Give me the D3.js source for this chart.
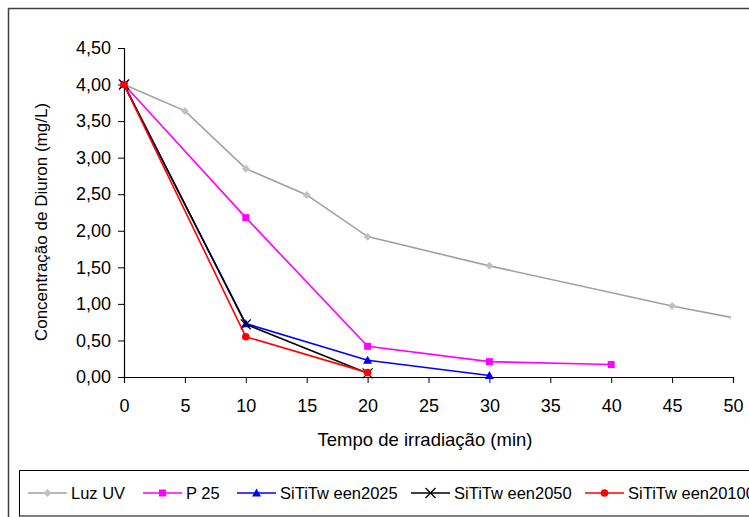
<!DOCTYPE html>
<html><head><meta charset="utf-8">
<script src="https://cdn.jsdelivr.net/npm/d3@7"></script>
<style>body{margin:0;background:#fff}svg{display:block}text{font-family:"Liberation Sans",Arial,sans-serif}</style>
</head><body>
<script>
const seriesNames = ["Luz UV","P 25","SiTiTw een2025","SiTiTw een2050","SiTiTw een20100"];
const luzX = [0,5,10,15,20,30,45,50];
const luzY = [4.00,3.64,2.85,2.49,1.92,1.52,0.97,0.81];
const p25X = [0,10,20,30,40];
const p25Y = [4.00,2.18,0.42,0.21,0.17];
const t2025X = [0,10,20,30];
const t2025Y = [4.00,0.73,0.23,0.02];
const t2050X = [0,10,20];
const t2050Y = [4.00,0.72,0.05];
const t20100X = [0,10,20];
const t20100Y = [4.00,0.55,0.06];
const xTicks = [0,5,10,15,20,25,30,35,40,45,50];
const yTicks = [0,0.5,1,1.5,2,2.5,3,3.5,4,4.5];

const W=749,H=517;
const svg=d3.select("body").append("svg").attr("width",W).attr("height",H);
svg.append("rect").attr("x",8.5).attr("y",8.5).attr("width",W+10).attr("height",H+10).attr("fill","#fff").attr("stroke","#404040").attr("stroke-width",1.5);

const x=d3.scaleLinear().domain([0,50]).range([124,733]);
const y=d3.scaleLinear().domain([0,4.5]).range([377,48]);

const fmt=d=>d3.format(".2f")(d).replace(".",",");
const ya=svg.append("g").attr("transform","translate(124,0)").call(d3.axisLeft(y).tickValues(yTicks).tickSize(6).tickPadding(7).tickFormat(fmt));
const xa=svg.append("g").attr("transform","translate(0,377)").call(d3.axisBottom(x).tickValues(xTicks).tickSize(6).tickPadding(16).tickFormat(d3.format("d")));
[ya,xa].forEach(a=>{a.select(".domain").attr("stroke","#000").attr("stroke-width",1.2);a.selectAll(".tick line").attr("stroke","#000");a.selectAll("text").attr("font-size",18).attr("fill","#000").attr("font-family","Liberation Sans, Arial, sans-serif");});

svg.append("text").attr("x",425).attr("y",446).attr("text-anchor","middle").attr("font-size",18.5).text("Tempo de irradiação (min)");
svg.append("text").attr("transform","translate(47,222) rotate(-90)").attr("text-anchor","middle").attr("font-size",17).text("Concentração de Diuron (mg/L)");

svg.append("clipPath").attr("id","clip").append("rect").attr("x",0).attr("y",0).attr("width",731).attr("height",H);

const series=[
 {name:seriesNames[0],xs:luzX,ys:luzY,color:"#a0a0a0",mcolor:"#c0c0c0",m:"diamond"},
 {name:seriesNames[1],xs:p25X,ys:p25Y,color:"#ff00ff",mcolor:"#ff00ff",m:"square"},
 {name:seriesNames[2],xs:t2025X,ys:t2025Y,color:"#0000ff",mcolor:"#0000ff",m:"triangle"},
 {name:seriesNames[3],xs:t2050X,ys:t2050Y,color:"#000000",mcolor:"#000000",m:"x"},
 {name:seriesNames[4],xs:t20100X,ys:t20100Y,color:"#ff0000",mcolor:"#ff0000",m:"circle"}
];
function marker(g,type,cx,cy,c){
  if(type==="diamond") g.append("path").attr("d",`M${cx},${cy-4}L${cx+4},${cy}L${cx},${cy+4}L${cx-4},${cy}Z`).attr("fill",c);
  else if(type==="square") g.append("rect").attr("x",cx-3.5).attr("y",cy-3.5).attr("width",7).attr("height",7).attr("fill",c);
  else if(type==="triangle") g.append("path").attr("d",`M${cx},${cy-4.5}L${cx+4.5},${cy+3.5}L${cx-4.5},${cy+3.5}Z`).attr("fill",c);
  else if(type==="x") g.append("path").attr("d",`M${cx-5},${cy-5}L${cx+5},${cy+5}M${cx+5},${cy-5}L${cx-5},${cy+5}`).attr("stroke",c).attr("stroke-width",1.3).attr("fill","none");
  else if(type==="circle") g.append("circle").attr("cx",cx).attr("cy",cy).attr("r",3.8).attr("fill",c);
}
const plot=svg.append("g").attr("clip-path","url(#clip)");
const line=d3.line().x(d=>x(d[0])).y(d=>y(d[1]));
series.forEach(s=>{
  const pts=s.xs.map((v,i)=>[v,s.ys[i]]);
  plot.append("path").datum(pts).attr("d",line).attr("fill","none").attr("stroke",s.color).attr("stroke-width",1.6);
  pts.forEach(p=>marker(plot,s.m,x(p[0]),y(p[1]),s.mcolor));
});

// legend
svg.append("rect").attr("x",19.5).attr("y",470.5).attr("width",W).attr("height",45.5).attr("fill","#fff").attr("stroke","#000").attr("stroke-width",1);
const legX=[28,143,237,411,585];
series.forEach((s,i)=>{
  const lx=legX[i], ly=493;
  svg.append("line").attr("x1",lx).attr("x2",lx+39).attr("y1",ly).attr("y2",ly).attr("stroke",s.color).attr("stroke-width",1.6);
  marker(svg,s.m,lx+19.5,ly,s.mcolor);
  svg.append("text").attr("x",lx+43).attr("y",ly+6).attr("font-size",16.5).text(s.name);
});
</script>
</body></html>
